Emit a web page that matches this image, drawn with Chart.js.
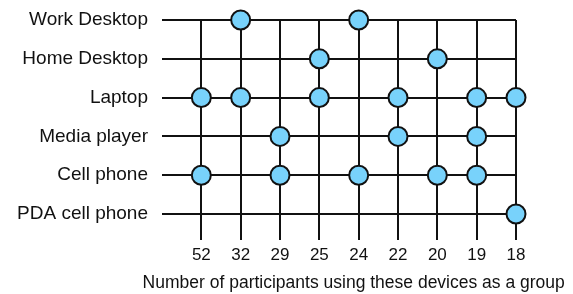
<!DOCTYPE html>
<html>
<head>
<meta charset="utf-8">
<script src="https://cdn.jsdelivr.net/npm/chart.js@4"></script>
<style>
  html, body { margin: 0; padding: 0; background: #fff; }
  #wrap { width: 573px; height: 294px; position: relative; }
</style>
</head>
<body>
<div id="wrap"><canvas id="c" width="573" height="294"></canvas></div>
<script>
// Devices (rows, top to bottom)
const devices = ["Work Desktop", "Home Desktop", "Laptop", "Media player", "Cell phone", "PDA cell phone"];
// Number of participants for each device group (columns, left to right)
const groupCounts = [52, 32, 29, 25, 24, 22, 20, 19, 18];
// Membership of each device in each group (1 = device is part of the group)
const workDesktop   = [0, 1, 0, 0, 1, 0, 0, 0, 0];
const homeDesktop   = [0, 0, 0, 1, 0, 0, 1, 0, 0];
const laptop        = [1, 1, 0, 1, 0, 1, 0, 1, 1];
const mediaPlayer   = [0, 0, 1, 0, 0, 1, 0, 1, 0];
const cellPhone     = [1, 0, 1, 0, 1, 0, 1, 1, 0];
const pdaCellPhone  = [0, 0, 0, 0, 0, 0, 0, 0, 1];
const xTitle = "Number of participants using these devices as a group";

const membership = [workDesktop, homeDesktop, laptop, mediaPlayer, cellPhone, pdaCellPhone];
const points = [];
membership.forEach((row, r) => row.forEach((v, c) => { if (v) points.push({ x: c, y: r }); }));

const FONT = "'Liberation Sans', Arial, Helvetica, sans-serif";
const INK = "#111111";

const zeroPad = s => { s.paddingTop = 0; s.paddingBottom = 0; s.paddingLeft = 0; s.paddingRight = 0; };

const titlePlugin = {
  id: 'offsetTitle',
  afterDraw(chart) {
    const ctx = chart.ctx;
    ctx.save();
    ctx.font = "17.5px " + FONT;
    ctx.fillStyle = INK;
    ctx.textAlign = 'center';
    ctx.textBaseline = 'alphabetic';
    ctx.fillText(xTitle, 353.7, 288);
    ctx.restore();
  }
};

new Chart(document.getElementById('c'), {
  type: 'scatter',
  data: {
    datasets: [{
      data: points,
      pointRadius: 9.5,
      pointHoverRadius: 9.5,
      pointBackgroundColor: '#78d2fb',
      pointBorderColor: INK,
      pointBorderWidth: 2,
      clip: false
    }]
  },
  options: {
    responsive: false,
    animation: false,
    events: [],
    layout: { padding: { top: 20, right: 57, left: 0, bottom: 0 } },
    plugins: { legend: { display: false }, tooltip: { enabled: false } },
    scales: {
      x: {
        type: 'linear',
        position: 'bottom',
        min: -1,
        max: groupCounts.length - 1,
        afterBuildTicks: s => { s.ticks = groupCounts.map((_, i) => ({ value: i })); },
        afterFit: s => { s.height = 54; zeroPad(s); },
        ticks: {
          autoSkip: false,
          maxRotation: 0,
          padding: 5,
          color: INK,
          font: { family: FONT, size: 17 },
          callback: v => groupCounts[v]
        },
        grid: { color: INK, lineWidth: 2, drawTicks: false },
        border: { display: false }
      },
      y: {
        type: 'linear',
        reverse: true,
        min: 0,
        max: 5.67,
        afterBuildTicks: s => { s.ticks = devices.map((_, i) => ({ value: i })); },
        afterFit: s => { s.width = 162; zeroPad(s); },
        ticks: {
          autoSkip: false,
          padding: 14,
          color: INK,
          font: { family: FONT, size: 19 },
          callback: v => devices[v]
        },
        grid: { color: INK, lineWidth: 2, drawTicks: false },
        border: { display: false }
      }
    }
  },
  plugins: [titlePlugin]
});
</script>
</body>
</html>
